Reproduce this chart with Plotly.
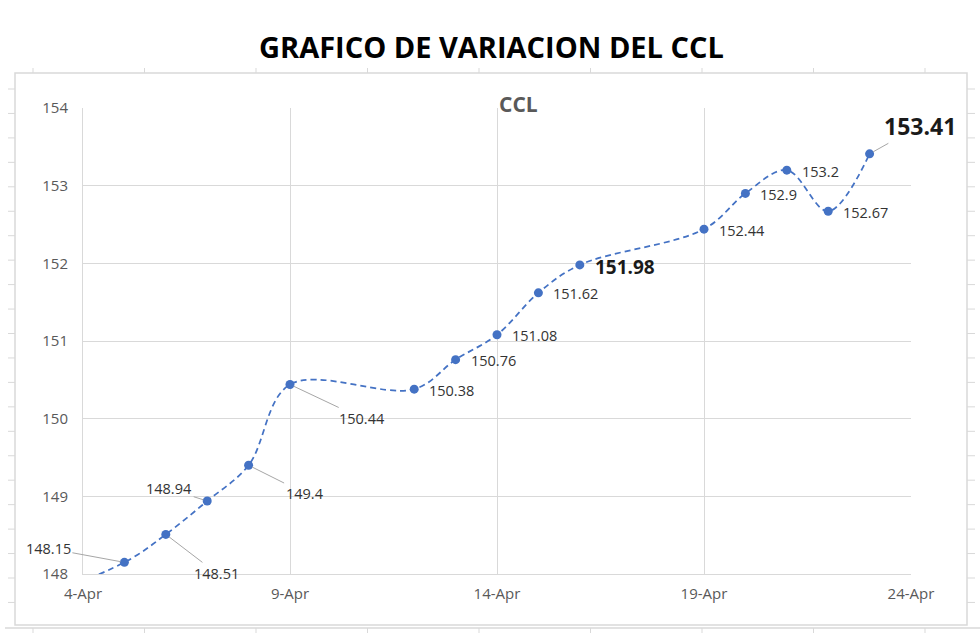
import plotly.graph_objects as go

# ---- data ----
dates = ["2021-04-01", "2021-04-05", "2021-04-06", "2021-04-07", "2021-04-08", "2021-04-09",
         "2021-04-12", "2021-04-13", "2021-04-14", "2021-04-15", "2021-04-16",
         "2021-04-19", "2021-04-20", "2021-04-21", "2021-04-22", "2021-04-23"]
ccl = [147.3, 148.15, 148.51, 148.94, 149.4, 150.44,
       150.38, 150.76, 151.08, 151.62, 151.98,
       152.44, 152.9, 153.2, 152.67, 153.41]
label_text = ["", "148.15", "148.51", "148.94", "149.4", "150.44",
              "150.38", "150.76", "151.08", "151.62", "151.98",
              "152.44", "152.9", "153.2", "152.67", "153.41"]
tick_vals = ["2021-04-04", "2021-04-09", "2021-04-14", "2021-04-19", "2021-04-24"]
tick_text = ["4-Apr", "9-Apr", "14-Apr", "19-Apr", "24-Apr"]
y_ticks = [148, 149, 150, 151, 152, 153, 154]

BLUE = "#4472C4"
GRID = "#d9d9d9"
W, H = 980, 640
L, R, T, B = 83, 69, 108, 66
PW, PH = W - L - R, H - T - B

def px(x):
    return (x - L) / PW

def py(y):
    return (H - B - y) / PH

fig = go.Figure()
fig.add_trace(go.Scatter(
    x=dates, y=ccl, mode="lines+markers",
    line=dict(color=BLUE, width=1.75, dash="6px,4px", shape="spline", smoothing=1),
    marker=dict(color=BLUE, size=9),
    hoverinfo="x+y", showlegend=False,
))

# label styling per point: (ax, ay) for leader-line labels, None for right-side labels
leader = {1: (-76, -14), 2: (51, 39), 3: (-38, -12), 4: (56, 28), 5: (72, 34), 15: (50, -28)}
bold_size = {10: 19, 15: 23}
annotations = []
for i, (d, v, t) in enumerate(zip(dates, ccl, label_text)):
    if not t:
        continue
    size = bold_size.get(i, 14.5)
    txt = f"<b>{t}</b>" if i in bold_size else t
    font = dict(family="Open Sans, sans-serif", size=size, color="#1a1a1a" if i in bold_size else "#333333")
    if i in leader:
        ax, ay = leader[i]
        annotations.append(dict(x=d, y=v, text=txt, showarrow=True, arrowhead=0, arrowwidth=1,
                                arrowcolor="#a6a6a6", ax=ax, ay=ay, font=font, standoff=4))
    else:
        annotations.append(dict(x=d, y=v, text=txt, showarrow=False, xanchor="left",
                                yanchor="middle", xshift=13, yshift=-1 if i != 10 else -2, font=font))

annotations.append(dict(xref="paper", yref="paper", x=px(518), y=py(104), xanchor="center", yanchor="middle",
                        text="<b>CCL</b>", showarrow=False,
                        font=dict(family="Open Sans, sans-serif", size=21, color="#595959")))
annotations.append(dict(xref="paper", yref="paper", x=px(491), y=py(47), xanchor="center", yanchor="middle",
                        text="<b>GRAFICO DE VARIACION DEL CCL</b>", showarrow=False,
                        font=dict(family="Open Sans, sans-serif", size=29, color="#000000")))

# decorative frame and spreadsheet ticks
shapes = [dict(type="rect", xref="paper", yref="paper", x0=px(15), x1=px(967), y0=py(625), y1=py(73),
               line=dict(color=GRID, width=1.5), layer="below")]
shapes.append(dict(type="line", xref="paper", yref="paper", x0=px(5), x1=px(980), y0=py(628), y1=py(628),
                   line=dict(color=GRID, width=1.5)))
yy = 89
while yy < 625:
    shapes.append(dict(type="line", xref="paper", yref="paper", x0=px(8), x1=px(15), y0=py(yy), y1=py(yy),
                       line=dict(color=GRID, width=1)))
    shapes.append(dict(type="line", xref="paper", yref="paper", x0=px(967), x1=px(975), y0=py(yy), y1=py(yy),
                       line=dict(color=GRID, width=1)))
    yy += 24.45
xx = 33
while xx < 980:
    shapes.append(dict(type="line", xref="paper", yref="paper", x0=px(xx), x1=px(xx), y0=py(628), y1=py(633),
                       line=dict(color=GRID, width=1)))
    shapes.append(dict(type="line", xref="paper", yref="paper", x0=px(xx), x1=px(xx), y0=py(73), y1=py(68),
                       line=dict(color=GRID, width=1)))
    xx += 111.5

fig.update_layout(
    width=W, height=H, margin=dict(l=L, r=R, t=T, b=B),
    paper_bgcolor="white", plot_bgcolor="white",
    annotations=annotations, shapes=shapes,
    font=dict(family="Open Sans, sans-serif", color="#595959"),
)
fig.update_xaxes(type="date", range=["2021-04-04", "2021-04-24"], tickvals=tick_vals, ticktext=tick_text,
                 showgrid=True, gridcolor=GRID, gridwidth=1, showline=True, linecolor=GRID, linewidth=1,
                 ticks="", tickfont=dict(size=15, color="#595959"), ticklabelstandoff=6, zeroline=False,
                 fixedrange=True)
fig.update_yaxes(range=[148, 154], tickvals=y_ticks, showgrid=True, gridcolor=GRID, gridwidth=1,
                 showline=True, linecolor=GRID, linewidth=1, ticks="", tickfont=dict(size=15, color="#595959"),
                 ticklabelstandoff=11, zeroline=False, fixedrange=True)

fig.write_html("out.html")
